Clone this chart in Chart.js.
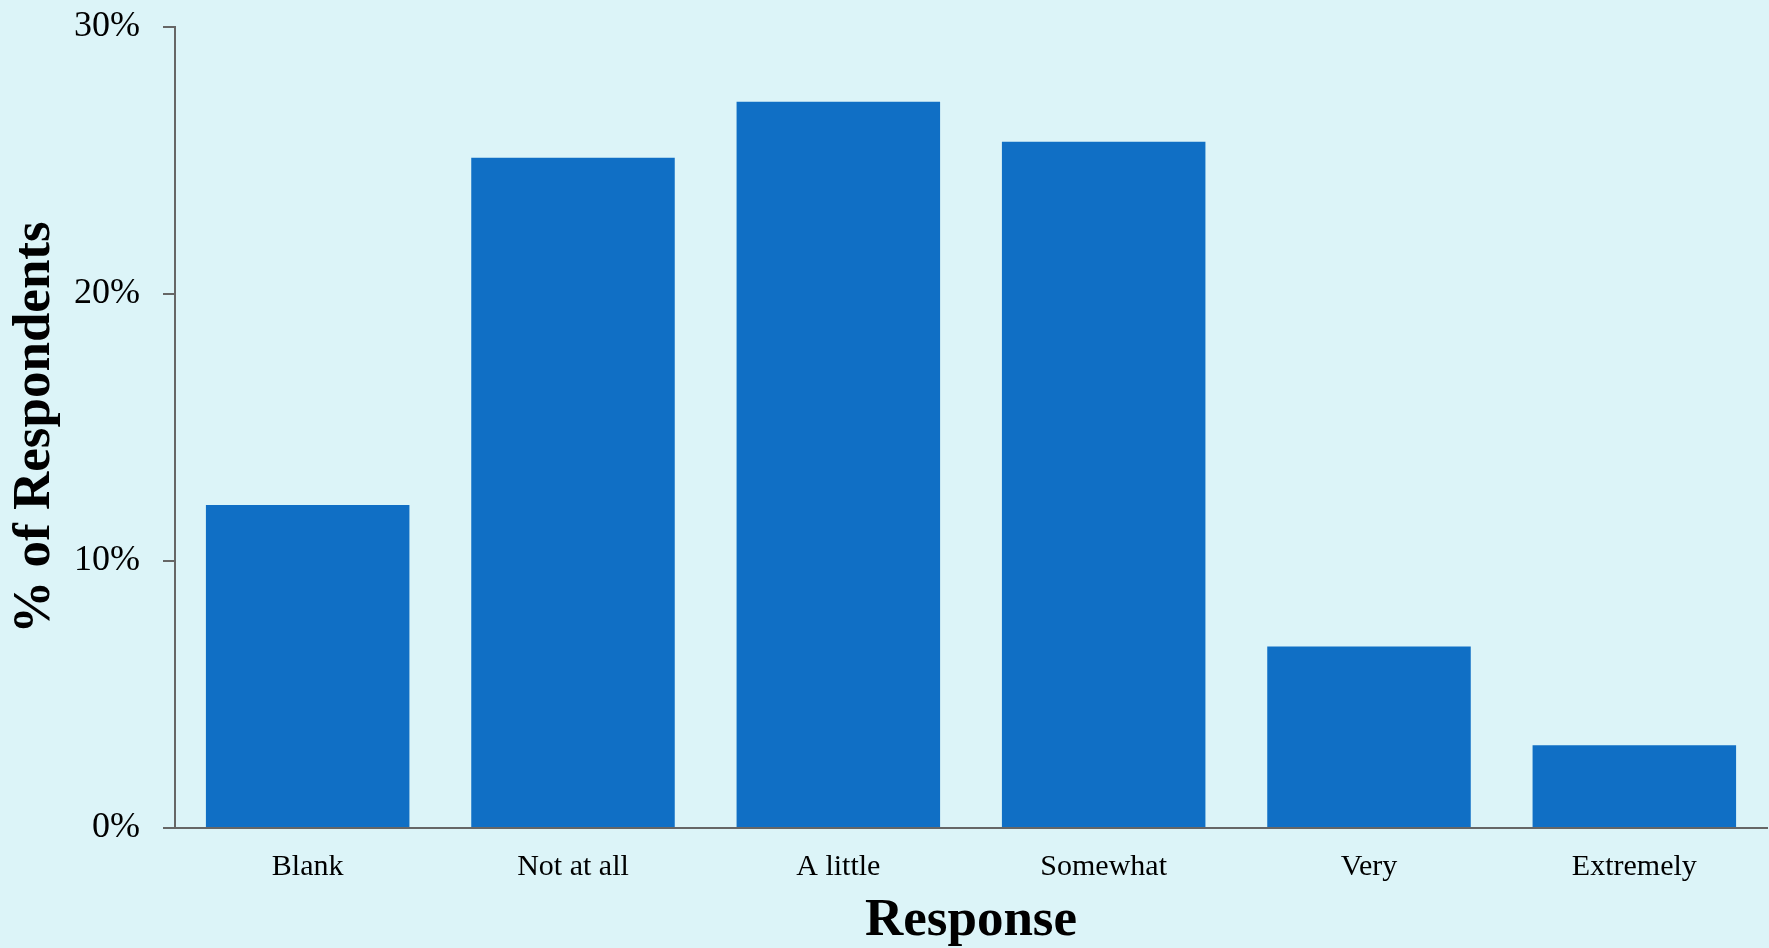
<!DOCTYPE html>
<html>
<head>
<meta charset="utf-8">
<script src="https://cdn.jsdelivr.net/npm/chart.js@4/dist/chart.umd.min.js"></script>
<style>
  html, body { margin: 0; padding: 0; background: #dcf4f8; }
  #wrap { width: 1769px; height: 948px; }
  canvas { display: block; }
</style>
</head>
<body>
<div id="wrap"><canvas id="chart" width="1769" height="948"></canvas></div>
<script>
// Survey responses and share of respondents (percent)
const categories = ['Blank', 'Not at all', 'A little', 'Somewhat', 'Very', 'Extremely'];
const shareValues = [12.1, 25.1, 27.2, 25.7, 6.8, 3.1];
const yTickValues = [0, 10, 20, 30];

const SERIF = "'Liberation Serif', 'DejaVu Serif', serif";
const AXIS_GREY = '#666666';

new Chart(document.getElementById('chart'), {
  type: 'bar',
  data: {
    labels: categories,
    datasets: [{
      data: shareValues,
      backgroundColor: '#106fc5',
      borderWidth: 0,
      barPercentage: 0.767,
      categoryPercentage: 1.0
    }]
  },
  options: {
    responsive: false,
    animation: false,
    layout: { padding: { top: 27, right: 2, bottom: 0, left: 0 } },
    plugins: {
      legend: { display: false },
      tooltip: { enabled: false }
    },
    scales: {
      x: {
        grid: { display: false, drawTicks: false },
        border: { display: true, color: AXIS_GREY, width: 2 },
        ticks: {
          color: '#000000',
          padding: 21,
          font: { family: SERIF, size: 30 },
          maxRotation: 0,
          autoSkip: false
        },
        title: {
          display: true,
          text: 'Response',
          color: '#000000',
          font: { family: SERIF, size: 53, weight: 'bold', lineHeight: 1 },
          padding: { top: 0, bottom: 0 }
        },
        afterFit: (scale) => {
          scale.height = 120;
          scale.paddingLeft = 0;
          scale.paddingRight = 0;
        }
      },
      y: {
        min: 0,
        max: 30,
        afterBuildTicks: (scale) => {
          scale.ticks = yTickValues.map(v => ({ value: v }));
        },
        grid: {
          drawOnChartArea: false,
          drawTicks: true,
          tickLength: 12,
          color: AXIS_GREY,
          lineWidth: 2
        },
        border: { display: true, color: AXIS_GREY, width: 2 },
        ticks: {
          color: '#000000',
          padding: 23,
          font: { family: SERIF, size: 36 },
          callback: (v) => v + '%'
        },
        title: {
          display: true,
          text: '% of Respondents',
          color: '#000000',
          font: { family: SERIF, size: 53, weight: 'bold', lineHeight: 1 },
          padding: { top: 9, bottom: 0 }
        },
        afterFit: (scale) => {
          scale.width = 175;
          scale.paddingTop = 0;
          scale.paddingBottom = 0;
        }
      }
    }
  }
});
</script>
</body>
</html>
